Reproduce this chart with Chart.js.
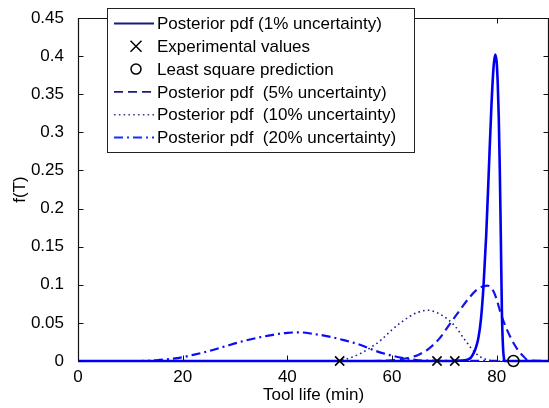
<!DOCTYPE html>
<html><head><meta charset="utf-8">
<script src="https://cdn.jsdelivr.net/npm/chart.js@4/dist/chart.umd.min.js"></script>
<style>html,body{margin:0;padding:0;background:#fff}canvas{display:block}</style>
</head><body>
<canvas id="c" width="549" height="408"></canvas>
<script>
// ---- tick labels ----
const xTickValues = [0, 20, 40, 60, 80];
const yTickValues = [0, 0.05, 0.1, 0.15, 0.2, 0.25, 0.3, 0.35, 0.4, 0.45];

// ---- series labels ----
const labels = [
  'Posterior pdf (1% uncertainty)',
  'Experimental values',
  'Least square prediction',
  'Posterior pdf  (5% uncertainty)',
  'Posterior pdf  (10% uncertainty)',
  'Posterior pdf  (20% uncertainty)'
];

// ---- 1% uncertainty ----
const x1 = [0, 70, 74, 75, 75.5, 76, 76.5, 77, 77.5, 78, 78.5, 79, 79.4, 79.7, 80, 80.2, 80.4, 80.6, 80.8, 81, 81.2, 81.4, 81.6, 90];
const y1 = [0, 0, 0.001, 0.004, 0.009, 0.017, 0.030, 0.055, 0.100, 0.165, 0.250, 0.335, 0.385, 0.402, 0.392, 0.365, 0.320, 0.250, 0.160, 0.065, 0.020, 0.003, 0, 0];

// ---- experimental values & least square prediction ----
const expX = [50, 68.6, 72];
const expY = [0, 0, 0];
const lsqX = [83.2];
const lsqY = [0];

// ---- 5% uncertainty ----
const x5 = [0, 55, 60, 63, 65, 67, 69, 71, 73, 75, 76.5, 78.2, 79.5, 81, 82.5, 84, 85, 86, 90];
const y5 = [0, 0, 0.001, 0.004, 0.008, 0.016, 0.029, 0.048, 0.067, 0.085, 0.095, 0.099, 0.090, 0.058, 0.033, 0.015, 0.007, 0.001, 0];

// ---- 10% uncertainty ----
const x10 = [0, 48, 50, 52, 54, 56, 58, 60, 62, 64, 66, 67, 68, 70, 72, 74, 76, 78, 80, 90];
const y10 = [0, 0, 0.001, 0.004, 0.010, 0.018, 0.028, 0.041, 0.052, 0.061, 0.066, 0.0665, 0.065, 0.058, 0.046, 0.027, 0.010, 0.002, 0, 0];

// ---- 20% uncertainty ----
const x20 = [0, 12, 15, 18, 20, 22, 25, 28, 31, 34, 37, 40, 42.5, 45, 48, 51, 54, 57, 60, 63, 66, 90];
const y20 = [0, 0, 0.001, 0.003, 0.005, 0.008, 0.013, 0.019, 0.025, 0.030, 0.034, 0.037, 0.0375, 0.0355, 0.032, 0.027, 0.021, 0.013, 0.007, 0.003, 0.0005, 0];

function pts(xs, ys) { return xs.map((x, i) => ({ x: x, y: ys[i] })); }

const FONT = '"Liberation Sans", Arial, Helvetica, sans-serif';
Chart.defaults.font.family = FONT;
Chart.defaults.font.size = 17;
Chart.defaults.color = '#000';

const curve = (data, color, width, dash, legendColor, order) => ({
  data: data, borderColor: color, backgroundColor: color, borderWidth: width,
  borderDash: dash, showLine: true, pointRadius: 0, pointHoverRadius: 0,
  cubicInterpolationMode: 'monotone', clip: 6, legendColor: legendColor, order: order
});

const datasets = [
  Object.assign(curve(pts(x1, y1), '#0000f0', 2.6, [], '#1a1a80', 1), { label: labels[0] }),
  { label: labels[1], data: pts(expX, expY), pointStyle: 'crossRot', pointRadius: 6.5,
    borderColor: '#000', backgroundColor: '#000', pointBorderWidth: 1.6, showLine: false, clip: false, order: 0, marker: 'x' },
  { label: labels[2], data: pts(lsqX, lsqY), pointStyle: 'circle', pointRadius: 5.5,
    borderColor: '#000', backgroundColor: 'rgba(0,0,0,0)', pointBorderWidth: 1.5, showLine: false, clip: false, order: 0, marker: 'o' },
  Object.assign(curve(pts(x5, y5), '#1515e8', 2.2, [9, 5], '#1a1a80', 2), { label: labels[3] }),
  Object.assign(curve(pts(x10, y10), '#202090', 1.6, [1.6, 3.2], '#404090', 3), { label: labels[4] }),
  Object.assign(curve(pts(x20, y20), '#0a0aff', 2.2, [9, 4, 2, 4], '#1030ff', 4), { label: labels[5] })
];

const boxPlugin = {
  id: 'boxLegend',
  afterDraw(chart) {
    const ctx = chart.ctx, a = chart.chartArea;
    const sx = chart.scales.x, sy = chart.scales.y;
    // frame (top, right, left) and inward ticks
    const L = Math.round(a.left) + 0.5, R = Math.round(a.right) - 0.5;
    const T = Math.round(a.top) + 0.5, B = Math.round(a.bottom) - 0.5;
    ctx.save();
    ctx.strokeStyle = '#111';
    ctx.lineWidth = 1.2;
    ctx.setLineDash([]);
    ctx.beginPath();
    ctx.moveTo(L, B); ctx.lineTo(L, T); ctx.lineTo(R, T); ctx.lineTo(R, B);
    ctx.stroke();
    ctx.lineWidth = 1;
    ctx.beginPath();
    xTickValues.forEach(v => {
      const px = Math.round(sx.getPixelForValue(v)) + 0.5;
      ctx.moveTo(px, B); ctx.lineTo(px, B - 5);
      ctx.moveTo(px, T); ctx.lineTo(px, T + 5);
    });
    yTickValues.forEach(v => {
      const py = Math.round(sy.getPixelForValue(v)) + 0.5;
      ctx.moveTo(L, py); ctx.lineTo(L + 5, py);
      ctx.moveTo(R, py); ctx.lineTo(R - 5, py);
    });
    ctx.stroke();
    ctx.restore();

    // legend box
    const box = { l: 107.5, t: 8.5, r: 414.5, b: 152.5 };
    ctx.save();
    ctx.fillStyle = '#fff';
    ctx.fillRect(box.l, box.t, box.r - box.l, box.b - box.t);
    ctx.strokeStyle = '#222';
    ctx.lineWidth = 1;
    ctx.setLineDash([]);
    ctx.strokeRect(box.l, box.t, box.r - box.l, box.b - box.t);
    chart.data.datasets.forEach((ds, i) => {
      const cy = 23.5 + i * 22.8;
      ctx.save();
      if (ds.marker === 'x') {
        const r = 5.5;
        ctx.strokeStyle = '#000'; ctx.lineWidth = 1.5; ctx.setLineDash([]);
        ctx.beginPath();
        ctx.moveTo(136 - r, cy - r); ctx.lineTo(136 + r, cy + r);
        ctx.moveTo(136 + r, cy - r); ctx.lineTo(136 - r, cy + r);
        ctx.stroke();
      } else if (ds.marker === 'o') {
        ctx.strokeStyle = '#000'; ctx.lineWidth = 1.5; ctx.setLineDash([]);
        ctx.beginPath(); ctx.arc(136, cy, 5, 0, Math.PI * 2); ctx.stroke();
      } else {
        ctx.strokeStyle = ds.legendColor || ds.borderColor;
        ctx.lineWidth = Math.min(ds.borderWidth, 1.8);
        ctx.setLineDash(ds.borderDash || []);
        ctx.beginPath(); ctx.moveTo(114, cy); ctx.lineTo(154, cy); ctx.stroke();
      }
      ctx.restore();
      ctx.fillStyle = '#000';
      ctx.font = '17px ' + FONT;
      ctx.textBaseline = 'middle';
      ctx.textAlign = 'left';
      ctx.fillText(ds.label, 157, cy + 1);
    });
    ctx.restore();
  }
};

new Chart(document.getElementById('c'), {
  type: 'scatter',
  data: { datasets: datasets },
  plugins: [boxPlugin],
  options: {
    responsive: false,
    devicePixelRatio: 1,
    animation: false,
    events: [],
    layout: { autoPadding: false, padding: { top: 18, right: 0, left: 0, bottom: 0 } },
    plugins: { legend: { display: false }, tooltip: { enabled: false } },
    scales: {
      x: {
        type: 'linear', min: 0, max: 90,
        grid: { display: false }, border: { display: true, color: '#111', width: 1 },
        afterBuildTicks: s => { s.ticks = xTickValues.map(v => ({ value: v })); },
        afterFit: s => { s.height = 47; s.paddingLeft = 0; s.paddingRight = 0; },
        ticks: { padding: -2, maxRotation: 0, font: { size: 17 }, color: '#000', callback: v => String(v) },
        title: { display: true, text: 'Tool life (min)', font: { size: 17 }, color: '#000', padding: { top: 0, bottom: 2 } }
      },
      y: {
        type: 'linear', min: 0, max: 0.45,
        grid: { display: false }, border: { display: true, color: '#111', width: 1 },
        afterBuildTicks: s => { s.ticks = yTickValues.map(v => ({ value: v })); },
        afterFit: s => { s.width = 78; s.paddingTop = 0; s.paddingBottom = 0; },
        ticks: { padding: 6, font: { size: 17 }, color: '#000', callback: v => String(+Number(v).toFixed(2)) },
        title: { display: true, text: 'f(T)', font: { size: 17 }, color: '#000', padding: { top: 10, bottom: 0 } }
      }
    }
  }
});
</script>
</body></html>
